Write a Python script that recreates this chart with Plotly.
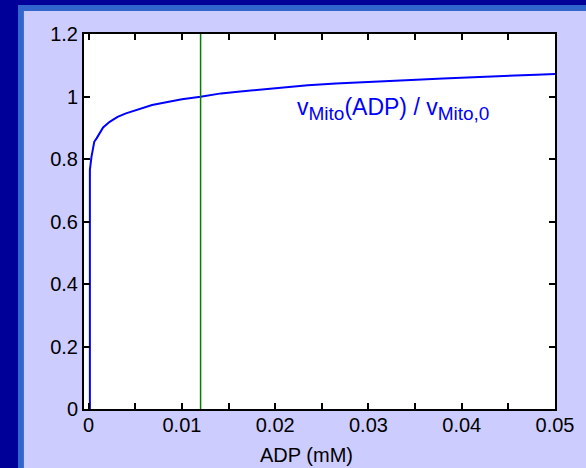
import plotly.graph_objects as go

# ADP concentration (mM) and relative mitochondrial rate v_Mito(ADP)/v_Mito,0
adp_mM = [0.00013, 0.00013, 0.0003, 0.0006, 0.00085, 0.00155, 0.00225, 0.0031,
          0.0040, 0.0054, 0.0068, 0.0086, 0.0100, 0.0120, 0.0142, 0.0160,
          0.0180, 0.0205, 0.0235, 0.0265, 0.0300, 0.0340, 0.0380, 0.0430,
          0.0480, 0.0500]
v_ratio = [0.0, 0.765, 0.807, 0.855, 0.866, 0.901, 0.919, 0.935,
           0.946, 0.959, 0.973, 0.983, 0.991, 0.999, 1.010, 1.015,
           1.021, 1.028, 1.036, 1.042, 1.046, 1.052, 1.058, 1.065,
           1.070, 1.072]

# reference ADP level marked by the vertical line
adp_ref = 0.012

x_tickvals = [0, 0.005, 0.01, 0.015, 0.02, 0.025, 0.03, 0.035, 0.04, 0.045, 0.05]
x_ticktext = ["0", "", "0.01", "", "0.02", "", "0.03", "", "0.04", "", "0.05"]
y_tickvals = [0, 0.2, 0.4, 0.6, 0.8, 1.0, 1.2]
y_ticktext = ["0", "0.2", "0.4", "0.6", "0.8", "1", "1.2"]

FONT = "Liberation Sans, Arial, sans-serif"
NAVY = "#000099"
STRIP = "#3366cc"
LAVENDER = "#ccccff"

fig = go.Figure()

fig.add_trace(go.Scatter(
    x=adp_mM, y=v_ratio, mode="lines",
    line=dict(color="#0000ff", width=2),
    showlegend=False, hoverinfo="skip",
))

fig.add_trace(go.Scatter(
    x=[adp_ref, adp_ref], y=[0, 1.2], mode="lines",
    line=dict(color="#008000", width=1.5),
    showlegend=False, hoverinfo="skip",
))

# framed slide-style background behind the axes
fig.add_shape(type="rect", xref="paper", yref="paper",
              x0=-0.1402, x1=1.2, y0=-0.3, y1=1.0773,
              fillcolor=STRIP, line=dict(width=0), layer="below")
fig.add_shape(type="rect", xref="paper", yref="paper",
              x0=-0.1276, x1=1.2, y0=-0.3, y1=1.0613,
              fillcolor=LAVENDER, line=dict(width=0), layer="below")
fig.add_shape(type="rect", xref="x domain", yref="y domain",
              x0=0, x1=1, y0=0, y1=1,
              fillcolor="white", line=dict(width=0), layer="below")

sub = "<sub><span style='font-size:19px'>{}</span></sub>"
fig.add_annotation(
    xref="paper", yref="paper", x=(298 - 84) / 478, y=(409 - 126) / 375,
    xanchor="left", yanchor="bottom", showarrow=False,
    text="v" + sub.format("Mito") + "(ADP) / v" + sub.format("Mito,0"),
    font=dict(family=FONT, size=23, color="#0000ff"),
)

fig.add_annotation(
    xref="paper", yref="paper", x=(310 - 84) / 478, y=(409 - 455) / 375,
    xanchor="center", yanchor="middle", showarrow=False,
    text="ADP (mM)",
    font=dict(family=FONT, size=20, color="black"),
)

axis_common = dict(
    showgrid=False, zeroline=False,
    showline=True, linecolor="black", linewidth=2, mirror="ticks",
    ticks="inside", ticklen=6, tickwidth=1.5, tickcolor="black",
    tickfont=dict(family=FONT, size=20, color="black"),
)

fig.update_xaxes(range=[-0.0005, 0.05], tickmode="array",
                 tickvals=x_tickvals, ticktext=x_ticktext,
                 ticklabelstandoff=-3, **axis_common)
fig.update_yaxes(range=[0, 1.2], tickmode="array",
                 tickvals=y_tickvals, ticktext=y_ticktext, **axis_common)

fig.update_layout(
    width=586, height=468,
    margin=dict(l=84, r=24, t=34, b=59),
    paper_bgcolor=NAVY, plot_bgcolor="white",
    font=dict(family=FONT),
)

fig.write_html("out.html")
